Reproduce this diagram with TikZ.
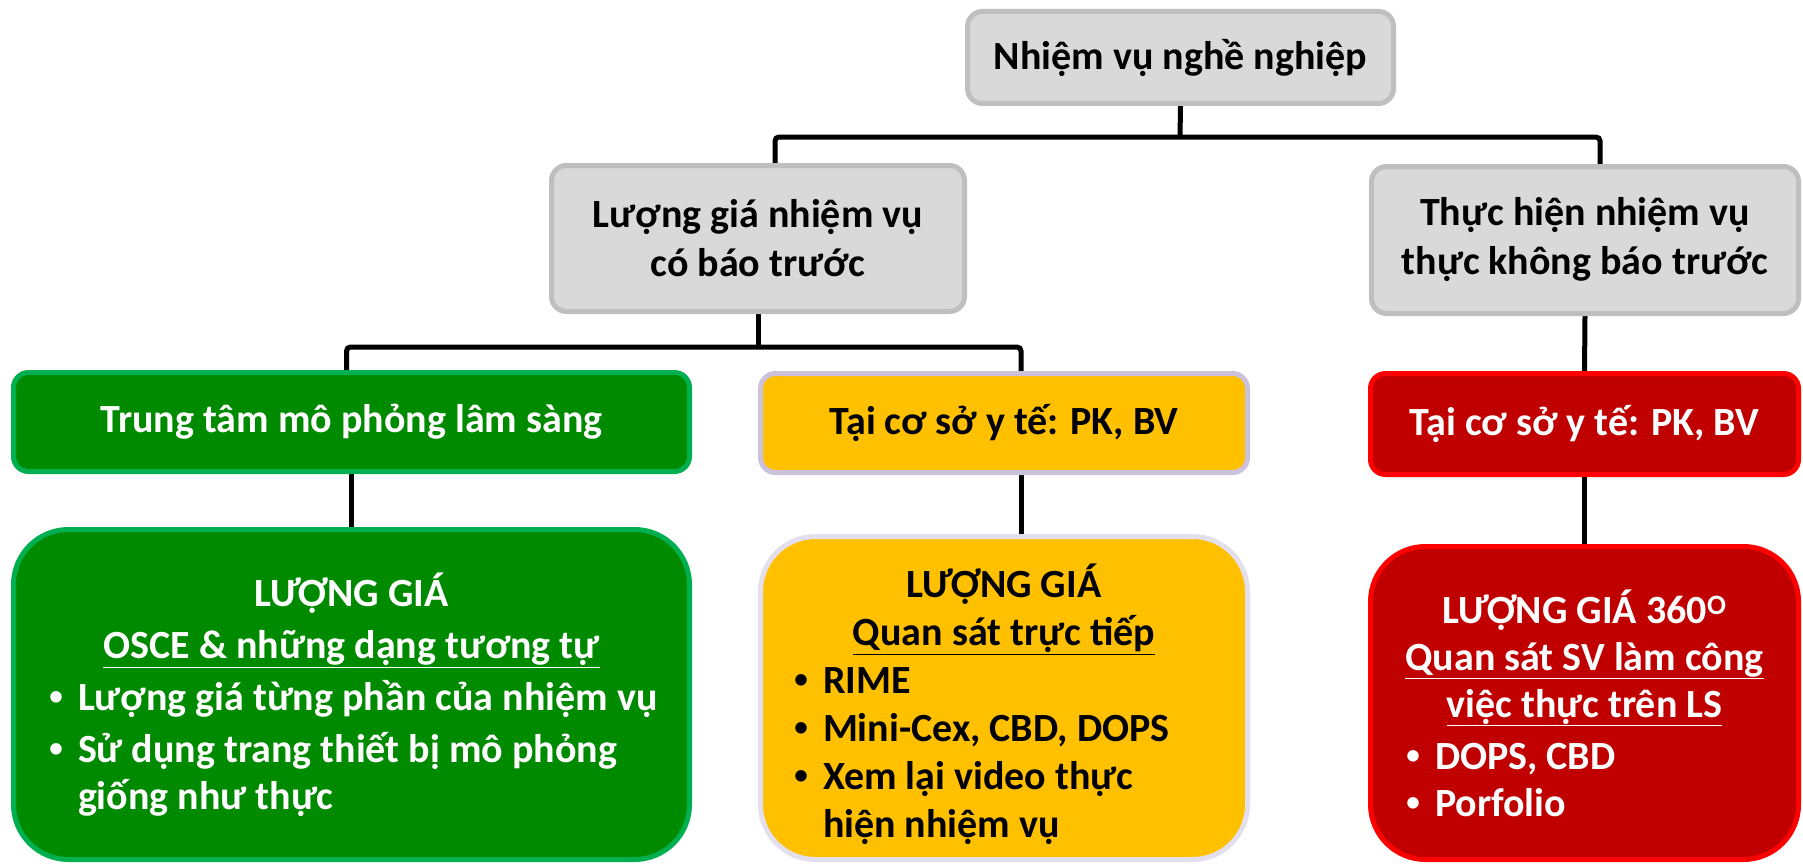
\documentclass[tikz,border=0pt]{standalone}
\usepackage{fontspec}
\setmainfont{Carlito}
\newfontfamily\bulletfont{Liberation Sans}
\usetikzlibrary{backgrounds}

\definecolor{boxgray}{HTML}{D9D9D9}
\definecolor{edgegray}{HTML}{BFBFBF}
\definecolor{leafgreen}{HTML}{008A00}
\definecolor{edgegreen}{HTML}{00B050}
\definecolor{leafyellow}{HTML}{FFC000}
\definecolor{edgelilac}{HTML}{CCC1DA}
\definecolor{edgelilaclight}{HTML}{E4DFEC}
\definecolor{leafred}{HTML}{C00000}
\definecolor{edgered}{HTML}{FF0000}

% bullet paragraph with hanging indent
\newcommand{\bitem}[1]{\par\hangindent=23pt\hangafter=1\noindent\makebox[23pt][l]{\hspace{-6pt}{\bulletfont\textbullet}}#1}
% centred heading line, allowed to stick out on both sides
\newcommand{\headline}[1]{\par\noindent\makebox[\linewidth]{#1}\par}

\tikzset{
  base/.style={rectangle, rounded corners=15pt, line width=5pt, align=center,
    inner sep=0pt, font=\fontsize{40}{49}\selectfont\bfseries},
  graybox/.style={base, fill=boxgray, draw=edgegray, text=black},
  greenbox/.style={base, fill=leafgreen, draw=edgegreen, text=white},
  yellowbox/.style={base, fill=leafyellow, draw=edgelilac, text=black},
  redbox/.style={base, fill=leafred, draw=edgered, text=white},
  bigbox/.style={rounded corners=55pt},
  conn/.style={line width=5pt, draw=black, rounded corners=4pt}
}

\begin{document}
\begin{tikzpicture}[x=1pt, y=-1pt]
\useasboundingbox (0,0) rectangle (1803,864);

% level 0 and 1
\node[graybox, minimum width=426pt, minimum height=92pt] (top) at (1180.5,57.5) {Nhiệm vụ nghề nghiệp};
\node[graybox, minimum width=413pt, minimum height=146pt] (b2) at (758,238.5) {Lượng giá nhiệm vụ\\có báo trước};
\node[graybox, minimum width=427pt, minimum height=147pt] (b3) at (1585,240) {Thực hiện nhiệm vụ\\thực không báo trước};

% level 2: settings
\node[greenbox, minimum width=676pt, minimum height=99pt] (g1) at (351.5,422) {Trung tâm mô phỏng lâm sàng};
\node[yellowbox, minimum width=487pt, minimum height=99pt] (y1) at (1004,423) {Tại cơ sở y tế: PK, BV};
\node[redbox, minimum width=428pt, minimum height=101pt] (r1) at (1584.5,424) {Tại cơ sở y tế: PK, BV};

% level 3: assessment methods
\node[greenbox, bigbox, minimum width=676pt, minimum height=330pt] (g2) at (351.5,694.5) {%
  \begin{minipage}{593pt}\fontsize{40}{47}\selectfont\parskip=5pt
  \headline{LƯỢNG GIÁ}
  \headline{\underline{OSCE \& những dạng tương tự}}
  \raggedright
  \bitem{\mbox{Lượng giá từng phần của nhiệm vụ}}
  \bitem{Sử dụng trang thiết bị mô phỏng\newline giống như thực}\par
  \end{minipage}};
\node[yellowbox, bigbox, draw=edgelilaclight, minimum width=487pt, minimum height=323pt] (y2) at (1004,698) {%
  \begin{minipage}{408pt}\fontsize{40}{48}\selectfont\parskip=0pt
  \vspace*{12pt}
  \headline{LƯỢNG GIÁ}
  \headline{\underline{Quan sát trực tiếp}}
  \raggedright
  \bitem{RIME}
  \bitem{Mini-Cex, CBD, DOPS}
  \bitem{Xem lại video thực\newline hiện nhiệm vụ}\par
  \end{minipage}};
\node[redbox, bigbox, minimum width=428pt, minimum height=313pt] (r2) at (1584.5,703) {%
  \begin{minipage}{345pt}\fontsize{40}{47}\selectfont\parskip=0pt
  \headline{LƯỢNG GIÁ 360\textsuperscript{O}}
  \headline{\underline{Quan sát SV làm công}}
  \headline{\underline{việc thực trên LS}}
  \vspace{5pt}\raggedright
  \bitem{DOPS, CBD}
  \bitem{Porfolio}\par
  \end{minipage}};

% junction points of the tree
\coordinate (j1) at (1180,137);
\coordinate (j2) at (759,347);

\begin{scope}[on background layer]
\fill[white] (0,0) rectangle (1803,864);
\draw[conn] (top.south) -- (j1);
\draw[conn] ([xshift=17pt]b2.north) |- (j1) -| ([xshift=15pt]b3.north);
\draw[conn] (b2.south) -- (b2.south |- j2);
\draw[conn] ([xshift=-5pt]g1.north) |- (j2) -| ([xshift=17pt]y1.north);
\draw[conn] (b3.south) -- (r1.north);
\draw[conn] (g1.south) -- (g2.north);
\draw[conn] ([xshift=17pt]y1.south) -- ([xshift=17pt]y1.south |- y2.north);
\draw[conn] (r1.south) -- (r2.north);
\end{scope}
\end{tikzpicture}
\end{document}
